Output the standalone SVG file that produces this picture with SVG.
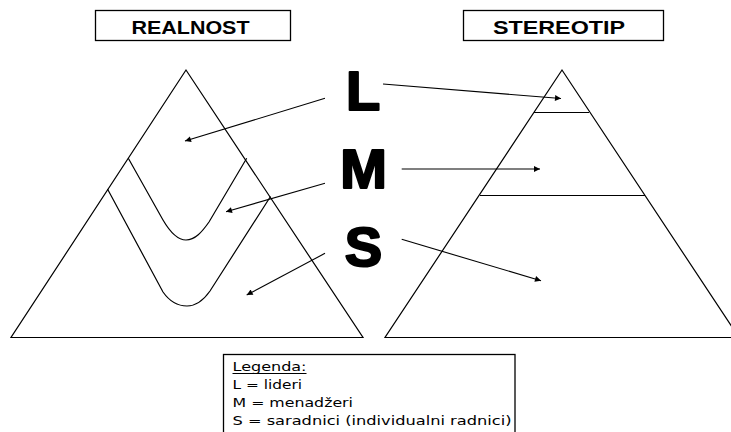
<svg xmlns="http://www.w3.org/2000/svg" width="731" height="432" viewBox="0 0 731 432">
<defs>
<marker id="ah" viewBox="0 0 10 10" refX="10" refY="5" markerWidth="9" markerHeight="6" markerUnits="userSpaceOnUse" orient="auto">
<path d="M0,0 L10,5 L0,10 z" fill="#000"/>
</marker>
<style>
.ln{fill:none;stroke:#000;stroke-width:1.2}
.box{fill:#fff;stroke:#000;stroke-width:1.3}
.hd{font-family:"Liberation Sans",Arial,sans-serif;font-weight:bold;font-size:18px;text-anchor:middle;fill:#000}
.big{font-family:"Liberation Sans",Arial,sans-serif;font-weight:bold;font-size:56px;text-anchor:middle;fill:#000;stroke:#000;stroke-width:2.2;stroke-linejoin:round}
.lg{font-family:"DejaVu Sans",Verdana,sans-serif;font-size:12px;fill:#000}
.ar{fill:none;stroke:#000;stroke-width:1.1;marker-end:url(#ah)}
</style>
</defs>
<rect width="731" height="432" fill="#fff"/>
<g id="hdr-realnost">
<rect class="box" x="95.5" y="10.5" width="195" height="30"/>
<text class="hd" x="190.5" y="33.5" textLength="118" lengthAdjust="spacingAndGlyphs">REALNOST</text>
</g>
<g id="hdr-stereotip">
<rect class="box" x="463.5" y="10.5" width="200" height="30"/>
<text class="hd" x="559" y="34" textLength="132" lengthAdjust="spacingAndGlyphs">STEREOTIP</text>
</g>
<g id="pyramid-realnost">
<path class="ln" d="M186,70 L11,337.5 L363,337.5 Z"/>
<path class="ln" d="M128.3,158.3 L163,220 C170,232 177,240 186,240 C195,240 202,232 209,222 L246.7,158.3"/>
<path class="ln" d="M107.5,189 L163,292 C170,302 178,306 187,306 C196,306 203,301 210,291 L270.5,196.5"/>
</g>
<g id="pyramid-stereotip">
<path class="ln" d="M562,70 L385,337.5 L739,337.5 Z"/>
<line class="ln" x1="534" y1="112.5" x2="589" y2="112.5"/>
<line class="ln" x1="480" y1="195.5" x2="645" y2="195.5"/>
</g>
<g id="label-L"><text class="big" x="363" y="110">L</text></g>
<g id="label-M"><text class="big" x="363.5" y="188">M</text></g>
<g id="label-S"><text class="big" x="363.5" y="266">S</text></g>
<g id="connectors">
<line class="ar" x1="325" y1="98.3" x2="185" y2="141"/>
<line class="ar" x1="325" y1="183.3" x2="226" y2="211.7"/>
<line class="ar" x1="325" y1="253.3" x2="246.7" y2="295"/>
<line class="ar" x1="383" y1="84" x2="561" y2="98.5"/>
<line class="ar" x1="401.7" y1="169" x2="540" y2="169"/>
<line class="ar" x1="401.7" y1="239.3" x2="541" y2="280.7"/>
</g>
<g id="legend">
<rect class="box" x="223.5" y="354.5" width="291.5" height="90"/>
<text class="lg" x="232.5" y="371" textLength="74" lengthAdjust="spacingAndGlyphs">Legenda:</text>
<line x1="232.5" y1="373.5" x2="306.5" y2="373.5" stroke="#000" stroke-width="1"/>
<text class="lg" x="232.5" y="389" textLength="69.5" lengthAdjust="spacingAndGlyphs">L = lideri</text>
<text class="lg" x="232.5" y="407" textLength="120.5" lengthAdjust="spacingAndGlyphs">M = menadžeri</text>
<text class="lg" x="232.5" y="425" textLength="279" lengthAdjust="spacingAndGlyphs">S = saradnici (individualni radnici)</text>
</g>
</svg>
